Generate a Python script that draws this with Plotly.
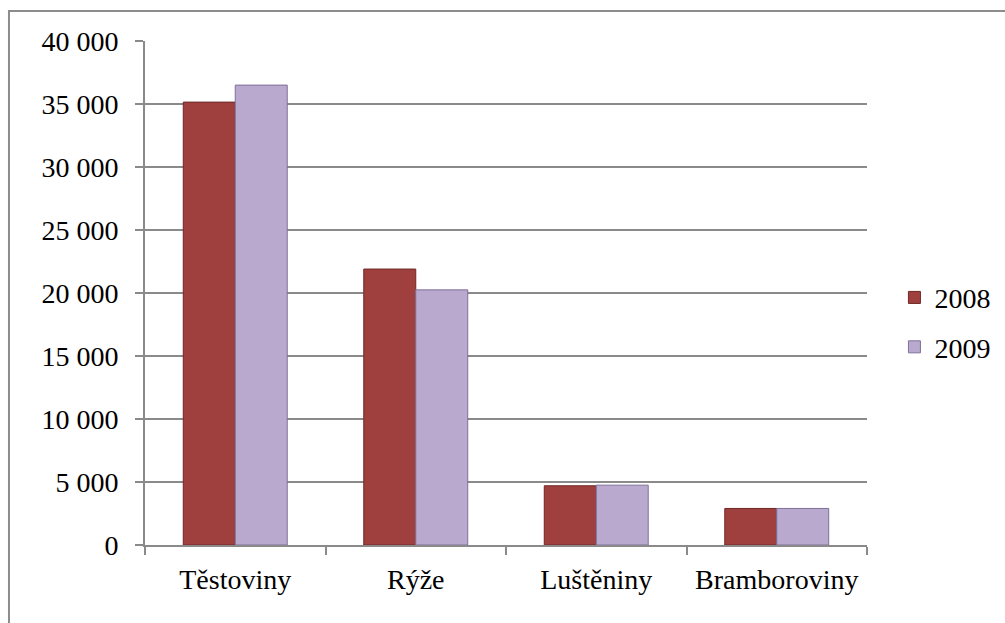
import plotly.graph_objects as go

# Categories and yearly values
categories = ["Těstoviny", "Rýže", "Luštěniny", "Bramboroviny"]
values_2008 = [35150, 21900, 4700, 2900]
values_2009 = [36500, 20250, 4750, 2900]
series_names = ["2008", "2009"]
y_ticks = [0, 5000, 10000, 15000, 20000, 25000, 30000, 35000, 40000]

FONT = "Liberation Serif"
GRID = "#8a8a8a"

fig = go.Figure()
fig.add_trace(go.Bar(
    name=series_names[0], x=categories, y=values_2008, legendgroup="a",
    marker=dict(color="#a0403e", line=dict(color="#6e2826", width=1)),
))
fig.add_trace(go.Bar(
    name=series_names[1], x=categories, y=values_2009, legendgroup="b",
    marker=dict(color="#b9a9cf", line=dict(color="#7f7099", width=1)),
))

fig.update_layout(
    width=1005, height=623,
    margin=dict(l=145, r=138, t=41, b=78, autoexpand=False),
    paper_bgcolor="white", plot_bgcolor="white",
    barmode="group", bargap=0.424, bargroupgap=0,
    separators=", ",
    font=dict(family=FONT, size=28, color="black"),
    showlegend=True,
    legend=dict(
        x=1.038, xanchor="left", y=0.442, yanchor="middle",
        font=dict(family=FONT, size=28, color="black"),
        bgcolor="rgba(0,0,0,0)", traceorder="grouped", tracegroupgap=10,
    ),
    xaxis=dict(
        showline=True, linecolor=GRID, linewidth=2,
        ticks="outside", tickson="boundaries", ticklen=8, tickcolor=GRID, tickwidth=2,
        showgrid=False, ticklabelstandoff=8,
    ),
    yaxis=dict(
        range=[0, 40000], tickvals=y_ticks, tickformat=",d",
        showline=True, linecolor=GRID, linewidth=2,
        ticks="outside", ticklen=8, tickcolor=GRID, tickwidth=2,
        showgrid=True, gridcolor=GRID, gridwidth=2, zeroline=False,
        ticklabelstandoff=11,
    ),
    shapes=[
        # outer chart frame (left and top edges visible)
        dict(type="rect", xref="paper", yref="paper",
             x0=-0.1884, x1=1.3, y0=-0.3, y1=1.0595,
             line=dict(color="#8c8c8c", width=2), layer="below"),
    ],
)

fig.write_html("out.html")
